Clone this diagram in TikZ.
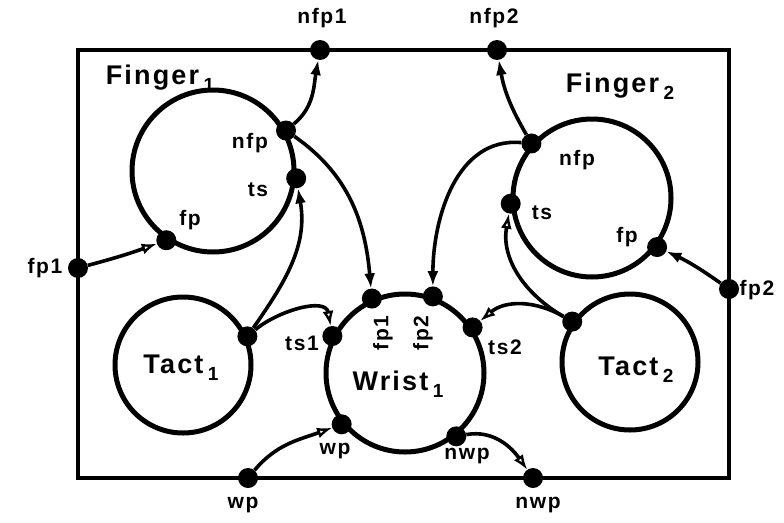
\documentclass[tikz,border=0pt]{standalone}
\usepackage{fontspec}
\setmainfont{Liberation Sans}[LetterSpace=8]
\usetikzlibrary{arrows.meta}
\newcommand{\lowidx}[1]{\,\raisebox{-7pt}{\fontsize{19}{19}\selectfont #1}}
\begin{document}
\begin{tikzpicture}[x=1pt,y=1pt,
  placecirc/.style={circle,draw,line width=5pt,inner sep=0pt},
  tok/.style={circle,fill=black,inner sep=0pt,minimum size=20pt},
  conn/.style={line width=3.6pt},
  fa/.style={-{Latex[length=15pt,width=11pt]}},
  ha/.style={-{Latex[open,length=15pt,width=11pt,line width=2.4pt]}},
  lblsmall/.style={font=\bfseries\fontsize{21}{21}\selectfont,inner sep=0pt},
  lblbig/.style={font=\bfseries\fontsize{27}{27}\selectfont,inner sep=0pt},
  frameline/.style={line width=4.2pt}]
\useasboundingbox (0,0) rectangle (784,-522);
% frame
\draw[frameline] (78,-50) rectangle (729,-478);
% places
\node[placecirc,minimum size=162pt] (F1) at (213,-171) {};
\node[placecirc,minimum size=158pt] (F2) at (592,-198) {};
\node[placecirc,minimum size=136pt] (T1) at (183,-365) {};
\node[placecirc,minimum size=136pt] (T2) at (630,-362) {};
\node[placecirc,minimum size=158pt] (W) at (405,-373) {};
% frame tokens
\node[tok] (nfp1) at (320,-50) {};
\node[tok] (nfp2) at (497,-50) {};
\node[tok] (fp1) at (78,-268) {};
\node[tok] (fp2) at (729,-289) {};
\node[tok] (wpF) at (248,-478) {};
\node[tok] (nwpF) at (533,-478) {};
% tokens on circles
\node[tok] (f1nfp) at (F1.29) {};
\node[tok] (f1ts) at (F1.-5) {};
\node[tok] (f1fp) at (F1.236) {};
\node[tok] (f2nfp) at (F2.138) {};
\node[tok] (f2ts) at (F2.184) {};
\node[tok] (f2fp) at (F2.-37) {};
\node[tok] (t1) at (T1.24) {};
\node[tok] (t2) at (T2.145) {};
\node[tok] (wts1) at (W.153) {};
\node[tok] (wfp1) at (W.114) {};
\node[tok] (wfp2) at (W.70) {};
\node[tok] (wts2) at (W.34) {};
\node[tok] (wwp) at (W.219) {};
\node[tok] (wnwp) at (W.-51) {};
% connectors
\draw[conn,ha] (fp1) to[out=15,in=200] (f1fp);
\draw[conn,fa] (f1nfp) to[out=40,in=-100] (nfp1);
\draw[conn,fa] (f1nfp) to[out=-35,in=95] (wfp1);
\draw[conn,fa] (t1) to[out=55,in=-80] (f1ts);
\draw[conn,ha] (t1) to[out=40,in=100] (wts1);
\draw[conn,fa] (f2nfp) to[out=120,in=-80] (nfp2);
\draw[conn,fa] (f2nfp) to[out=175,in=90] (wfp2);
\draw[conn,ha] (t2) to[out=150,in=-100] (f2ts);
\draw[conn,ha] (t2) to[out=150,in=40] (wts2);
\draw[conn,ha] (wpF) to[out=50,in=200] (wwp);
\draw[conn,ha] (wnwp) to[out=10,in=125] (nwpF);
\draw[conn,fa] (fp2) to[out=145,in=-25] (f2fp);
% labels
\node[lblsmall] at (322,-18) {nfp1};
\node[lblsmall] at (494,-18) {nfp2};
\node[lblbig] at (160,-78) {Finger\lowidx{1}};
\node[lblbig] at (620,-86) {Finger\lowidx{2}};
\node[lblsmall] at (250,-143) {nfp};
\node[lblsmall] at (258,-190) {ts};
\node[lblsmall] at (190,-220) {fp};
\node[lblsmall] at (577,-160) {nfp};
\node[lblsmall] at (542,-213) {ts};
\node[lblsmall] at (627,-237) {fp};
\node[lblsmall] at (45,-268) {fp1};
\node[lblsmall] at (757,-290) {fp2};
\node[lblbig] at (181,-368) {Tact\lowidx{1}};
\node[lblbig] at (636,-370) {Tact\lowidx{2}};
\node[lblbig] at (398,-384) {Wrist\lowidx{1}};
\node[lblsmall] at (302,-343) {ts1};
\node[lblsmall] at (505,-347) {ts2};
\node[lblsmall,rotate=90] at (383,-333) {fp1};
\node[lblsmall,rotate=90] at (423,-333) {fp2};
\node[lblsmall] at (335,-451) {wp};
\node[lblsmall] at (467,-456) {nwp};
\node[lblsmall] at (243,-505) {wp};
\node[lblsmall] at (538,-505) {nwp};
\end{tikzpicture}
\end{document}
